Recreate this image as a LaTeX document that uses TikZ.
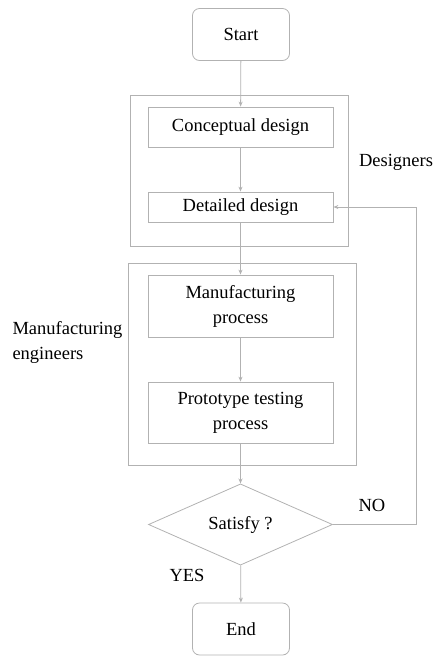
\documentclass[tikz,border=0pt]{standalone}
\usepackage{fontspec}
\setmainfont{Liberation Serif}
\usetikzlibrary{shapes.geometric,arrows.meta}

\begin{document}
\begin{tikzpicture}[x=1pt,y=-1pt]
\tikzset{ >={Stealth[length=5pt,width=4pt]}, font=\fontsize{18.5}{25}\selectfont,
  line/.style={draw=gray!60, line width=0.8pt},
  stage/.style={line, rectangle, align=center, minimum width=185pt},
  term/.style={line, rectangle, rounded corners=7pt, minimum width=97pt, minimum height=52pt},
  frame/.style={line, rectangle},
  check/.style={line, diamond, inner sep=0pt, minimum width=184pt, minimum height=67pt},
}
\useasboundingbox (0,0) rectangle (434,657);

%\draw [lightgray, dashed](0,0) grid (434,657);

\node [frame, minimum width=218pt, minimum height=151pt] (DES) at (239,170.5) {};
\node [frame, minimum width=228pt, minimum height=202pt] (MAN) at (242,364) {};

\node [term] (S) at (241,34.5) {Start};
\node [stage, minimum height=40pt] (C) at (240.5,127) {Conceptual design};
\node [stage, minimum height=30pt] (T) at (240.5,207) {Detailed design};
\node [stage, minimum height=62pt] (M) at (240.5,306) {Manufacturing\\process};
\node [stage, minimum height=61pt] (P) at (240.5,412.5) {Prototype testing\\process};
\node [check] (Q) at (240.5,524.5) {Satisfy ?};
\node [term] (E) at (241,629) {End};

\draw [line, ->] (S) -- (C);
\draw [line, ->] (C) -- (T);
\draw [line, ->] (T) -- (M);
\draw [line, ->] (M) -- (P);
\draw [line, ->] (P) -- (Q);
\draw [line, ->] (Q) -- (E);
\draw [line, ->] (Q.east) -- ++(83,0) |- (T.east);

\node (LD) at (396,162) {Designers};
\node [anchor=west, align=left] (LM) at (9,342) {Manufacturing\\engineers};
\node (NO) at (372,505) {NO};
\node (YES) at (187,575) {YES};
\end{tikzpicture}
\end{document}
